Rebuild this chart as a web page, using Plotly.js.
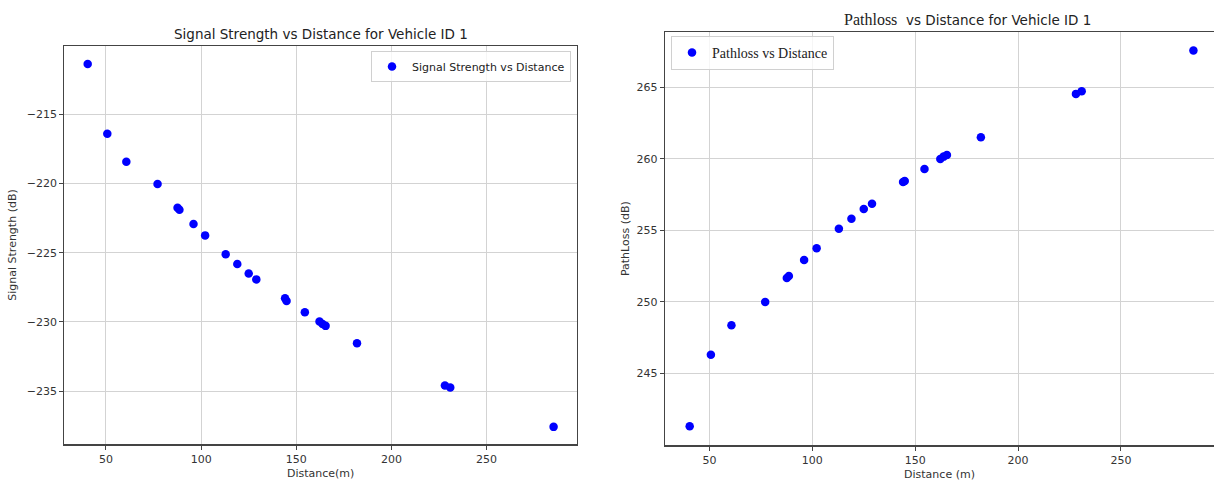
<!DOCTYPE html>
<html>
<head>
<meta charset="utf-8">
<script src="https://cdn.plot.ly/plotly-3.0.1.min.js"></script>
<style>html,body{margin:0;padding:0;background:#fff;}#chart{width:1214px;height:483px;}</style>
</head>
<body>
<div id="chart"></div>
<script>
// Distance (m) for each sample of Vehicle ID 1
const distance = [40.4, 50.7, 60.7, 77.1, 87.6, 88.6, 96.0, 102.1, 112.9, 119.0, 125.0, 129.0, 144.1, 144.9, 154.5, 162.2, 163.8, 165.4, 181.9, 228.1, 230.9, 285.2];
// Signal strength (dB)
const signalStrength = [-211.36, -216.40, -218.43, -220.04, -221.75, -221.90, -222.93, -223.75, -225.12, -225.82, -226.50, -226.93, -228.30, -228.50, -229.30, -229.98, -230.15, -230.29, -231.54, -234.60, -234.74, -237.59];
// Path loss (dB)
const pathLoss = [241.29, 246.30, 248.36, 249.99, 251.67, 251.81, 252.93, 253.75, 255.12, 255.82, 256.50, 256.87, 258.39, 258.46, 259.30, 260.00, 260.16, 260.28, 261.52, 264.55, 264.73, 267.58];

const leftTitle = "Signal Strength vs Distance for Vehicle ID 1";
const rightTitle = "<span style=\"font-family:'Liberation Serif';font-size:16px\">Pathloss</span>  vs Distance for Vehicle ID 1";
const signalTicks = [-215, -220, -225, -230, -235];
const pathTicks = [245, 250, 255, 260, 265];
const distTicks = [50, 100, 150, 200, 250];

const W = 1214, H = 483;
const sans = "DejaVu Sans, sans-serif";
const serif = "Liberation Serif, serif";
const gridColor = "#d3d3d3";
const lineColor = "#444";
const tickFont = {family: sans, size: 11, color: "#333"};

const traces = [
  {x: distance, y: signalStrength, type: "scatter", mode: "markers", name: "Signal Strength vs Distance",
   marker: {color: "#0000ff", size: 8.5}, xaxis: "x", yaxis: "y", legend: "legend"},
  {x: distance, y: pathLoss, type: "scatter", mode: "markers", name: "Pathloss vs Distance",
   marker: {color: "#0000ff", size: 8.5}, xaxis: "x2", yaxis: "y2", legend: "legend2"}
];

function ax(extra) {
  return Object.assign({
    showgrid: true, gridcolor: gridColor, gridwidth: 1, zeroline: false,
    showline: true, linecolor: lineColor, linewidth: 1.2,
    ticks: "outside", ticklen: 4, tickcolor: lineColor, tickwidth: 1,
    tickfont: tickFont, automargin: false
  }, extra);
}

const layout = {
  width: W, height: H,
  margin: {l: 0, r: 0, t: 0, b: 0},
  paper_bgcolor: "#fff", plot_bgcolor: "#fff",
  showlegend: true,
  xaxis: ax({domain: [64.3/W, 577/W], range: [28.1, 297.5], tickvals: distTicks, mirror: true, anchor: "y",
    title: {text: "Distance(m)", font: {family: sans, size: 11, color: "#333"}, standoff: 4}}),
  yaxis: ax({domain: [(H-444.3)/H, (H-45.7)/H], range: [-238.85, -210.04], tickvals: signalTicks, mirror: true, anchor: "x",
    title: {text: "Signal Strength (dB)", font: {family: sans, size: 11, color: "#333"}, standoff: 7}}),
  xaxis2: ax({domain: [665/W, 1], range: [28.4, 295.2], tickvals: distTicks, mirror: true, anchor: "y2",
    title: {text: "Distance (m)", font: {family: sans, size: 11, color: "#333"}, standoff: 4}}),
  yaxis2: ax({domain: [(H-445.3)/H, (H-32)/H], range: [239.96, 268.88], tickvals: pathTicks, mirror: false, anchor: "x2",
    title: {text: "PathLoss (dB)", font: {family: sans, size: 11, color: "#333"}, standoff: 4}}),
  legend: {x: 571/W, xanchor: "right", y: (H-51)/H, yanchor: "top", bgcolor: "rgba(255,255,255,0.8)",
    bordercolor: "#d0d0d0", borderwidth: 1, font: {family: sans, size: 11, color: "#222"}},
  legend2: {x: 671/W, xanchor: "left", y: (H-36)/H, yanchor: "top", bgcolor: "rgba(255,255,255,0.8)",
    bordercolor: "#d0d0d0", borderwidth: 1, font: {family: serif, size: 14, color: "#222"}},
  annotations: [
    {text: leftTitle, xref: "paper", yref: "paper", x: 320.6/W, y: (H-34)/H, xanchor: "center", yanchor: "middle",
     showarrow: false, font: {family: sans, size: 13.5, color: "#222"}},
    {text: rightTitle, xref: "paper", yref: "paper", x: 967/W, y: (H-19)/H, xanchor: "center", yanchor: "middle",
     showarrow: false, font: {family: sans, size: 13.5, color: "#222"}}
  ]
};

Plotly.newPlot("chart", traces, layout, {displayModeBar: false, staticPlot: true});
</script>
</body>
</html>
